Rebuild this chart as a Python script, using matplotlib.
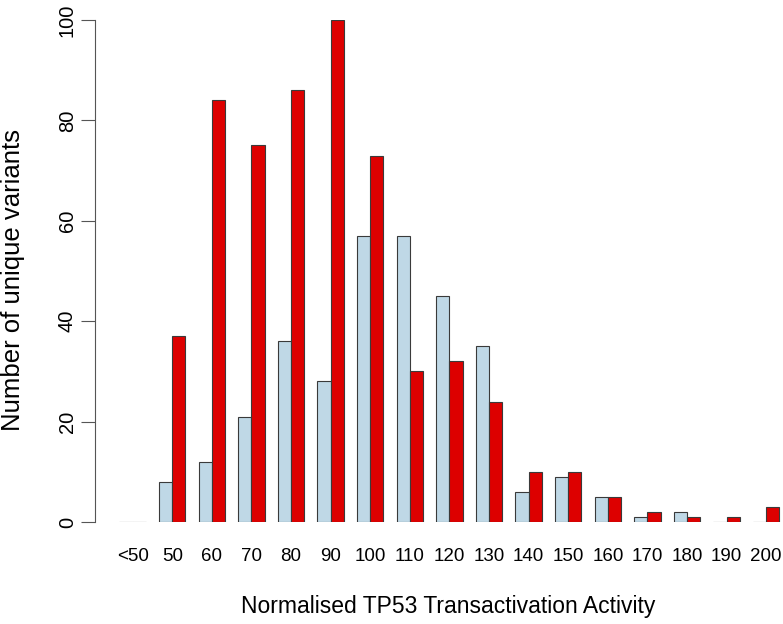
import numpy as np
import matplotlib.pyplot as plt

plt.rcParams['font.family'] = ['Liberation Sans', 'DejaVu Sans']

# activity bins and counts
bins = ['<50', '50', '60', '70', '80', '90', '100', '110', '120', '130',
        '140', '150', '160', '170', '180', '190', '200']
blue_counts = [0, 8, 12, 21, 36, 28, 57, 57, 45, 35, 6, 9, 5, 1, 2, 0, 0]
red_counts = [0, 37, 84, 75, 86, 100, 73, 30, 32, 24, 10, 10, 5, 2, 1, 1, 3]

fig = plt.figure(figsize=(7.83, 6.24), dpi=100)
# place plot region to match R barplot layout
ax = fig.add_axes([95/783, 1 - 522/624, 1 - 95/783, (522 - 20)/624])

x = np.arange(len(bins)) * 3  # beside=TRUE, space=c(0,1)
ax.bar(x + 1, blue_counts, width=1, align='edge', color='#BFD8E6',
       edgecolor='#3a3a3a', linewidth=0.8)
ax.bar(x + 2, red_counts, width=1, align='edge', color='#DD0000',
       edgecolor='#3a3a3a', linewidth=0.8)

ax.set_xlim(-0.85, 51.27)
ax.set_ylim(0, 100)

for s in ['top', 'right', 'bottom']:
    ax.spines[s].set_visible(False)
ax.spines['left'].set_bounds(0, 100)
ax.spines['left'].set_color('#555555')

ax.set_yticks([0, 20, 40, 60, 80, 100])
ax.tick_params(axis='y', length=10, width=0.8, color='#555555', pad=3,
               labelsize=14.5)
for lab in ax.get_yticklabels():
    lab.set_rotation(90)
    lab.set_va('center')

ax.set_xticks(x + 2)
ax.set_xticklabels(bins, fontsize=13.5)
ax.tick_params(axis='x', length=0, pad=19)

fig.text(13/783, 1 - 280/624, 'Number of unique variants', rotation=90,
         ha='center', va='center', fontsize=18.5)
fig.text(448/783, 1 - 606/624, 'Normalised TP53 Transactivation Activity',
         ha='center', va='center', fontsize=16.5)

fig.savefig('out.png', dpi=100)
